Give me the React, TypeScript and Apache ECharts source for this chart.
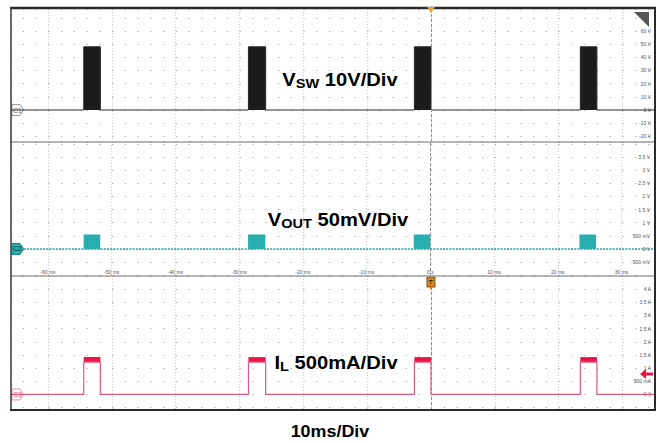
import React, { useEffect, useRef } from 'react';
import * as echarts from 'echarts';

// time axis (ms)
const X_MIN = -65.8;
const X_MAX = 35.1;
const timeTicks = [-60, -50, -40, -30, -20, -10, 0, 10, 20, 30];

// burst (switching) intervals, ms
const burstStart = [-54.4, -28.6, -2.6, 23.4];
const burstEnd = [-51.8, -25.9, 0.0, 26.0];

// levels
const vswLow = 0; // V
const vswHigh = 48; // V
const voutLow = 0; // V
const voutRippleTop = 0.55; // V
const ilLow = 0; // A
const ilRippleLow = 1.23; // A
const ilRippleHigh = 1.42; // A

// axis ranges
const vswRange = [-24.3, 76.7];
const voutRange = [-1.03, 4.07];
const ilRange = [-0.59, 4.5];

// tick labels
const vswTicks = [60, 50, 40, 30, 20, 10, 0, -10, -20];
const vswTickLabels = ['60 V', '50 V', '40 V', '30 V', '20 V', '10 V', '0 V', '-10 V', '-20 V'];
const voutTicks = [3.5, 3, 2.5, 2, 1.5, 1, 0.5, 0, -0.5];
const voutTickLabels = ['3.5 V', '3 V', '2.5 V', '2 V', '1.5 V', '1 V', '500 mV', '0 V', '-500 mV'];
const ilTicks = [4, 3.5, 3, 2.5, 2, 1.5, 1, 0.5, 0];
const ilTickLabels = ['4 A', '3.5 A', '3 A', '2.5 A', '2 A', '1.5 A', '1 A', '500 mA', '0 A'];
const timeTickLabels = ['-60 ms', '-50 ms', '-40 ms', '-30 ms', '-20 ms', '-10 ms', '0 s', '10 ms', '20 ms', '30 ms'];

const FONT = 'Liberation Sans, Arial, sans-serif';

function labelFor(ticks: number[], labels: string[]) {
  return (v: number) => {
    const i = ticks.findIndex((t) => Math.abs(t - v) < 1e-6);
    return i >= 0 ? labels[i] : '';
  };
}

function stepTrace(low: number, high: number) {
  const pts: number[][] = [[X_MIN, low]];
  burstStart.forEach((s, i) => {
    pts.push([s, low], [s, high], [burstEnd[i], high], [burstEnd[i], low]);
  });
  pts.push([X_MAX, low]);
  return pts;
}

function rectSeries(xIdx: number, lo: number, hi: number, fill: string) {
  return {
    type: 'custom',
    xAxisIndex: xIdx,
    yAxisIndex: xIdx,
    z: 3,
    encode: { x: [0, 1], y: [2, 3] },
    data: burstStart.map((s, i) => [s, burstEnd[i], lo, hi]),
    renderItem: (params: any, api: any) => {
      const p0 = api.coord([api.value(0), api.value(2)]);
      const p1 = api.coord([api.value(1), api.value(3)]);
      return {
        type: 'rect',
        shape: { x: p0[0], y: p1[1], width: p1[0] - p0[0], height: p0[1] - p1[1] },
        style: { fill },
      };
    },
  };
}

const zeroLine = {
  silent: true,
  symbol: 'none',
  label: { show: false },
  lineStyle: { color: '#8c8c8c', type: [3, 2], width: 1 },
  data: [{ xAxis: 0 }],
};

let measureCtx: CanvasRenderingContext2D | null = null;
function textWidth(t: string, size: number) {
  if (!measureCtx) measureCtx = document.createElement('canvas').getContext('2d');
  if (!measureCtx) return t.length * size * 0.6;
  measureCtx.font = `bold ${size}px ${FONT}`;
  return measureCtx.measureText(t).width;
}

type Piece = { t: string; size: number; dy: number };
function labelGroup(cx: number, cy: number, pieces: Piece[], scaleX: number) {
  const widths = pieces.map((p) => textWidth(p.t, p.size));
  const total = widths.reduce((a, b) => a + b, 0);
  let x = -total / 2;
  const children = pieces.map((p, i) => {
    const el = {
      type: 'text',
      x,
      y: p.dy,
      style: {
        text: p.t,
        fontSize: p.size,
        fontWeight: 'bold',
        fontFamily: FONT,
        fill: '#000',
        align: 'left',
        verticalAlign: 'middle',
      },
    };
    x += widths[i];
    return el;
  });
  return { type: 'group', x: cx, y: cy, scaleX, z: 130, children };
}

export default function App() {
  const ref = useRef<HTMLDivElement>(null);
  useEffect(() => {
    if (!ref.current) return;
    const chart = echarts.init(ref.current, undefined, { renderer: 'svg' });
    const grids = [
      { left: 11, top: 9, width: 644, height: 133 },
      { left: 11, top: 142, width: 644, height: 134 },
      { left: 11, top: 276, width: 644, height: 134 },
    ];
    const xAxis = grids.map((_, i) => ({
      type: 'value',
      gridIndex: i,
      min: X_MIN,
      max: X_MAX,
      splitNumber: 10,
      axisLine: { show: false },
      axisTick: { show: false },
      splitLine: { show: true, lineStyle: { color: '#c9c9c9', type: [1, 2], width: 1 } },
      axisLabel: {
        show: i === 1,
        inside: true,
        margin: 2,
        fontSize: 5,
        color: '#555',
        fontFamily: FONT,
        formatter: labelFor(timeTicks, timeTickLabels),
      },
    }));
    const ranges = [vswRange, voutRange, ilRange];
    const tickSets = [
      [vswTicks, vswTickLabels],
      [voutTicks, voutTickLabels],
      [ilTicks, ilTickLabels],
    ];
    const yAxis = grids.map((_, i) => ({
      type: 'value',
      gridIndex: i,
      position: 'right',
      min: ranges[i][0],
      max: ranges[i][1],
      splitNumber: 10,
      axisLine: { show: false },
      axisTick: { show: false },
      splitLine: {
        show: true,
        lineStyle: { color: '#a8a8a8', type: [1.2, 11.56], dashOffset: 1, width: 1.2 },
      },
      axisLabel: {
        inside: true,
        margin: 4,
        fontSize: 5,
        color: '#555',
        fontFamily: FONT,
        formatter: labelFor(tickSets[i][0] as number[], tickSets[i][1] as string[]),
      },
    }));

    const series: any[] = [
      {
        type: 'line',
        xAxisIndex: 0,
        yAxisIndex: 0,
        data: stepTrace(vswLow, vswHigh),
        symbol: 'none',
        lineStyle: { color: '#2a2a2a', width: 1 },
        areaStyle: { color: '#1b1b1b', opacity: 1, origin: 'auto' },
        markLine: zeroLine,
        z: 3,
      },
      {
        type: 'line',
        xAxisIndex: 1,
        yAxisIndex: 1,
        data: [
          [X_MIN, voutLow],
          [X_MAX, voutLow],
        ],
        symbol: 'none',
        lineStyle: { color: '#1f9e9e', width: 1.6, type: [2, 1.2] },
        markLine: zeroLine,
        z: 2,
      },
      rectSeries(1, voutLow, voutRippleTop, '#27aeae'),
      {
        type: 'line',
        xAxisIndex: 2,
        yAxisIndex: 2,
        data: stepTrace(ilLow, ilRippleLow),
        symbol: 'none',
        lineStyle: { color: '#dc5a7e', width: 1.2 },
        markLine: zeroLine,
        z: 3,
      },
      rectSeries(2, ilRippleLow, ilRippleHigh, '#e8174a'),
    ];

    chart.setOption({
      animation: false,
      backgroundColor: '#ffffff',
      grid: grids,
      xAxis,
      yAxis,
      series,
    });

    const y1 = chart.convertToPixel({ yAxisIndex: 0 }, vswLow) as number;
    const y2 = chart.convertToPixel({ yAxisIndex: 1 }, voutLow) as number;
    const y3 = chart.convertToPixel({ yAxisIndex: 2 }, ilLow) as number;
    const x0 = chart.convertToPixel({ xAxisIndex: 0 }, 0) as number;
    const arrowY = chart.convertToPixel({ yAxisIndex: 2 }, 0.78) as number;

    const tag = (y: number, label: string, fill: string, stroke: string, txt: string) => ({
      type: 'group',
      z: 120,
      children: [
        {
          type: 'polygon',
          shape: { points: [[12, y - 5.5], [20, y - 5.5], [23.5, y], [20, y + 5.5], [12, y + 5.5]] },
          style: { fill, stroke, lineWidth: 1 },
        },
        {
          type: 'text',
          x: 17.5,
          y,
          style: { text: label, fontSize: 6.5, fontFamily: FONT, fill: txt, align: 'center', verticalAlign: 'middle' },
        },
      ],
    });

    chart.setOption({
      graphic: [
        { type: 'line', z: 110, shape: { x1: 11, y1: 142, x2: 655, y2: 142 }, style: { stroke: '#9c9c9c', lineWidth: 1.5 } },
        { type: 'line', z: 110, shape: { x1: 11, y1: 276, x2: 655, y2: 276 }, style: { stroke: '#9c9c9c', lineWidth: 1.5 } },
        { type: 'line', z: 111, shape: { x1: 10, y1: 8, x2: 656, y2: 8 }, style: { stroke: '#2b2b2b', lineWidth: 2.5 } },
        { type: 'line', z: 111, shape: { x1: 11, y1: 8, x2: 11, y2: 411 }, style: { stroke: '#3a3a3a', lineWidth: 1.5 } },
        { type: 'line', z: 111, shape: { x1: 655, y1: 8, x2: 655, y2: 411 }, style: { stroke: '#2b2b2b', lineWidth: 2 } },
        { type: 'line', z: 111, shape: { x1: 10, y1: 410, x2: 656, y2: 410 }, style: { stroke: '#2b2b2b', lineWidth: 2 } },
        // trigger markers
        { type: 'polygon', z: 120, shape: { points: [[x0 - 4, 7], [x0 + 4, 7], [x0, 13]] }, style: { fill: '#f0a030' } },
        {
          type: 'group',
          z: 120,
          children: [
            { type: 'rect', shape: { x: x0 - 4, y: 277, width: 8, height: 10 }, style: { fill: '#d98a1c', stroke: '#5a3000', lineWidth: 0.8 } },
            { type: 'polygon', shape: { points: [[x0 - 2, 287], [x0 + 2, 287], [x0, 290]] }, style: { fill: '#d98a1c' } },
            { type: 'text', x: x0, y: 282, style: { text: 'T', fontSize: 7, fontWeight: 'bold', fontFamily: FONT, fill: '#222', align: 'center', verticalAlign: 'middle' } },
          ],
        },
        // probe corner marker
        { type: 'polygon', z: 120, shape: { points: [[634, 12], [649, 12], [649, 27]] }, style: { fill: '#555555' } },
        // IL reference arrow
        {
          type: 'polygon',
          z: 120,
          shape: { points: [[640, arrowY], [646, arrowY - 5], [646, arrowY - 1.5], [653, arrowY - 1.5], [653, arrowY + 1.5], [646, arrowY + 1.5], [646, arrowY + 5]] },
          style: { fill: '#e8174a' },
        },
        tag(y1, 'C1', '#ffffff', '#9a9a9a', '#666'),
        tag(y2, 'C2', '#25b3b3', '#117d7d', '#033'),
        tag(y3, 'C3', '#ffffff', '#e79ab0', '#e0607f'),
        labelGroup(340, 80, [
          { t: 'V', size: 18, dy: 0 },
          { t: 'SW', size: 13, dy: 4 },
          { t: ' 10V/Div', size: 18, dy: 0 },
        ], 1.12),
        labelGroup(338, 220, [
          { t: 'V', size: 18, dy: 0 },
          { t: 'OUT', size: 13, dy: 4 },
          { t: ' 50mV/Div', size: 18, dy: 0 },
        ], 1.12),
        labelGroup(336, 363, [
          { t: 'I', size: 18, dy: 0 },
          { t: 'L', size: 13, dy: 4 },
          { t: ' 500mA/Div', size: 18, dy: 0 },
        ], 1.12),
        labelGroup(330, 432, [{ t: '10ms/Div', size: 16, dy: 0 }], 1.12),
      ],
    });

    return () => chart.dispose();
  }, []);

  return (
    <div
      ref={ref}
      style={{ position: 'fixed', left: 0, top: 0, width: 657, height: 443, background: '#fff' }}
    />
  );
}
